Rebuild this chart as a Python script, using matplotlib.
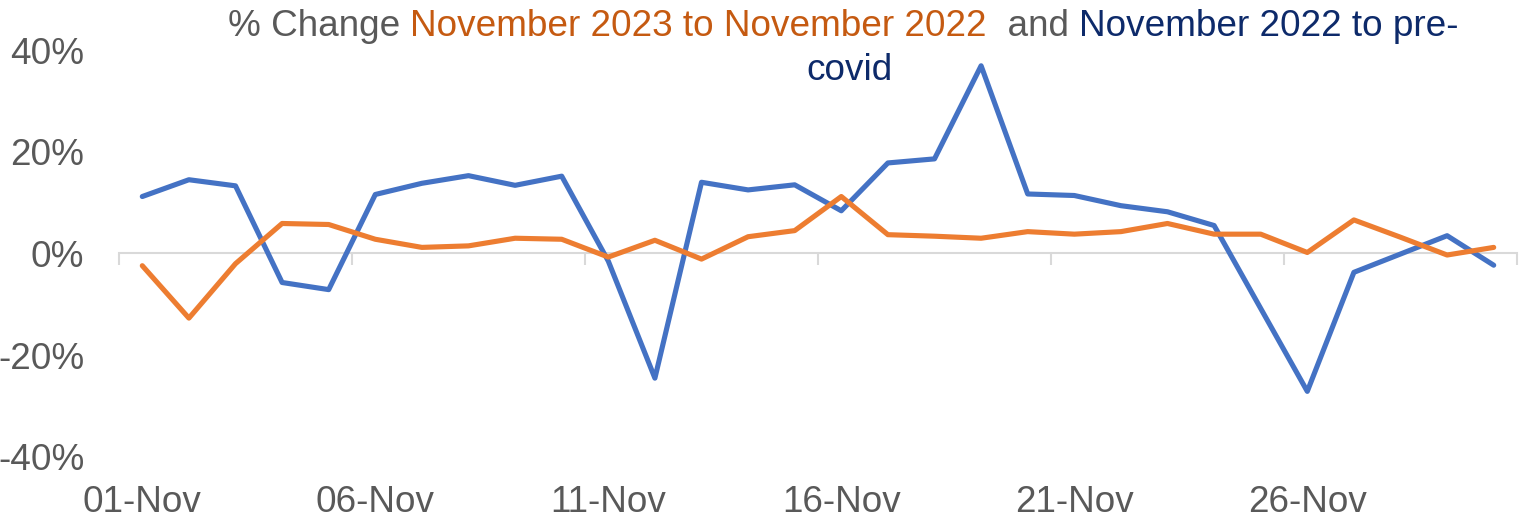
import matplotlib
matplotlib.use('Agg')
import matplotlib.pyplot as plt
from matplotlib.ticker import FuncFormatter

plt.rcParams['font.family'] = ['Liberation Sans', 'DejaVu Sans']

days = list(range(1, 31))
tick_days = [1, 6, 11, 16, 21, 26]
tick_labels = ['01-Nov', '06-Nov', '11-Nov', '16-Nov', '21-Nov', '26-Nov']

# % change Nov 2023 vs Nov 2022
vs_2022 = [-2.4, -12.7, -2.0, 5.9, 5.7, 2.8, 1.2, 1.5, 3.0, 2.8,
           -0.7, 2.6, -1.1, 3.3, 4.5, 11.2, 3.7, 3.4, 3.0, 4.3,
           3.8, 4.3, 5.9, 3.8, 3.8, 0.2, 6.6, 3.2, -0.3, 1.2]
# % change Nov 2022 vs pre-covid
vs_precovid = [11.2, 14.5, 13.3, -5.7, -7.1, 11.6, 13.8, 15.3, 13.4, 15.2,
               -1.5, -24.5, 14.0, 12.5, 13.5, 8.4, 17.8, 18.6, 36.9, 11.7,
               11.4, 9.4, 8.2, 5.5, -10.8, -27.1, -3.7, -0.1, 3.5, -2.3]

GREY = '#595959'
BLUE = '#4472C4'
ORANGE = '#ED7D31'
NAVY = '#0D2A6A'
FS = 26.6

fig = plt.figure(figsize=(15.19, 5.19), dpi=100)
ax = fig.add_axes([119 / 1519, 62 / 519, 1398 / 1519, 407 / 519])

ax.plot(days, vs_precovid, color=BLUE, lw=3.7,
        solid_joinstyle='round', solid_capstyle='round', zorder=3)
ax.plot(days, vs_2022, color=ORANGE, lw=3.7,
        solid_joinstyle='round', solid_capstyle='round', zorder=4)

ax.set_xlim(0.5, 30.5)
ax.set_ylim(-40, 40)
for s in ax.spines.values():
    s.set_visible(False)

ax.set_yticks([-40, -20, 0, 20, 40])
ax.yaxis.set_major_formatter(FuncFormatter(lambda v, p: '%d%%' % v))
ax.tick_params(axis='y', length=0, pad=25, labelsize=FS, labelcolor=GREY)
ax.set_xticks(tick_days)
ax.set_xticklabels(tick_labels)
ax.tick_params(axis='x', length=0, pad=20, labelsize=FS, labelcolor=GREY)

# category axis drawn at zero with tick marks between groups of 5 days
zax = ax.secondary_xaxis(0.5)
zax.set_xticks([0.5 + 5 * i for i in range(7)])
zax.set_xticklabels([])
for s in zax.spines.values():
    s.set_color('#D9D9D9')
    s.set_linewidth(1.5)
zax.xaxis.set_ticks_position('bottom')
zax.tick_params(axis='x', direction='out', length=8, width=1.5, color='#D9D9D9')

# multi-coloured title
pieces = [('% Change ', GREY), ('November 2023 to November 2022', '#C55A11'),
          ('  and ', GREY), ('November 2022 to pre-', NAVY)]
t = fig.text(228 / 1519, 1 - 36 / 519, pieces[0][0], color=pieces[0][1],
             fontsize=FS, ha='left', va='baseline')
for txt, col in pieces[1:]:
    t = ax.annotate(txt, xy=(1, 0), xycoords=t, color=col, fontsize=FS,
                    ha='left', va='bottom', annotation_clip=False)
fig.text(850 / 1519, 1 - 80 / 519, 'covid', color=NAVY, fontsize=FS,
         ha='center', va='baseline')

plt.savefig('out.png')
